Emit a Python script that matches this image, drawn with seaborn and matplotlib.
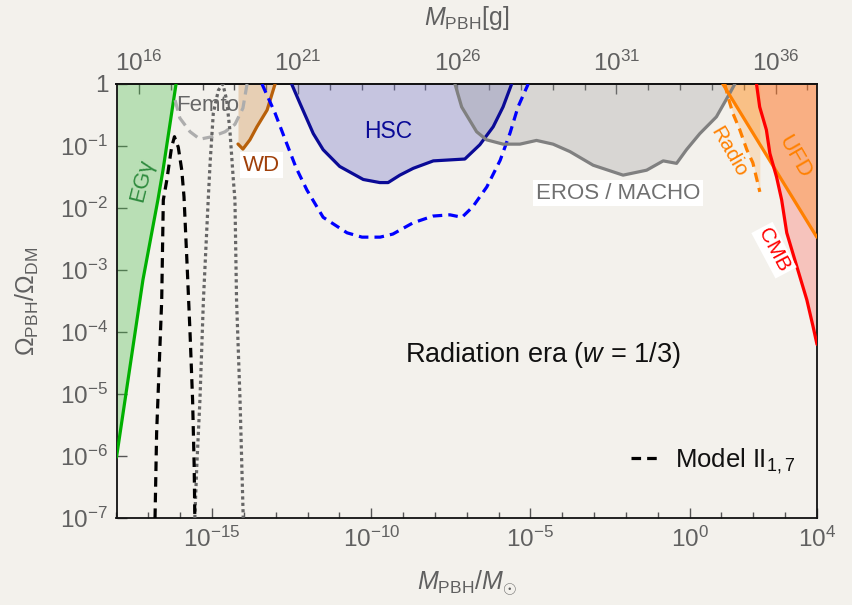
import numpy as np
import matplotlib
matplotlib.use("Agg")
import matplotlib.pyplot as plt
import seaborn as sns
from matplotlib.ticker import FixedLocator, FixedFormatter, NullFormatter

# ---------------- data (log10 of M/Msun and log10 of Omega_PBH/Omega_DM) -------------
egamma_logm = [-18.0, -17.17, -16.70, -16.54, -16.13]
egamma_logf = [-6.02, -3.16, -1.87, -1.39, 0.0]

femto_logm = [-16.16, -16.01, -15.69, -15.38, -15.00, -14.59, -14.28, -14.03, -13.90]
femto_logf = [-0.26, -0.55, -0.77, -0.89, -0.85, -0.77, -0.65, -0.39, 0.0]

wd_logm = [-14.185, -14.03, -13.81, -13.59, -13.27, -13.02]
wd_logf = [-0.968, -1.05, -0.90, -0.69, -0.42, 0.0]

model_logm = [-16.79, -16.74, -16.66, -16.58, -16.53, -16.42, -16.27, -16.18,
              -16.06, -15.95, -15.88, -15.78, -15.69, -15.61, -15.56, -15.54]
model_logf = [-7.0, -5.63, -4.56, -3.48, -1.87, -1.55, -1.02, -0.85,
              -1.02, -1.39, -1.82, -2.95, -4.02, -5.10, -6.18, -7.0]

dotted_logm = [-15.54, -15.48, -15.38, -15.27, -15.12, -15.06, -14.96, -14.80,
               -14.66, -14.54, -14.44, -14.33, -14.28, -14.23, -14.12, -14.02]
dotted_logf = [-7.0, -6.18, -5.10, -3.48, -1.87, -1.27, -0.47, -0.10,
               0.0, -0.26, -0.74, -1.55, -1.87, -3.48, -5.10, -7.0]

hsc_logm = [-12.50, -12.24, -11.82, -11.51, -10.99, -10.25, -9.73, -9.47,
            -9.10, -8.68, -8.05, -7.06, -6.59, -6.17, -5.86, -5.59]
hsc_logf = [0.0, -0.31, -0.80, -1.06, -1.33, -1.54, -1.59, -1.59,
            -1.47, -1.36, -1.24, -1.21, -0.98, -0.69, -0.37, 0.0]

hscdash_logm = [-13.43, -13.02, -12.70, -12.36, -12.02, -11.51, -10.76, -10.29, -9.72,
                -9.32, -8.69, -8.06, -7.53, -7.15, -6.81, -6.37, -5.95, -5.64, -5.39, -5.07]
hscdash_logf = [0.0, -0.47, -0.90, -1.35, -1.71, -2.15, -2.40, -2.47, -2.47,
                -2.42, -2.24, -2.13, -2.11, -2.15, -1.98, -1.66, -1.23, -0.79, -0.37, 0.0]

eros_logm = [-7.37, -7.16, -6.69, -6.38, -5.86, -5.33, -4.81, -4.29, -3.76, -3.03,
             -2.09, -1.35, -0.83, -0.41, -0.10, 0.32, 0.84, 1.26, 1.42]
eros_logf = [0.0, -0.37, -0.77, -0.90, -0.97, -0.97, -0.91, -0.97, -1.09, -1.31,
             -1.47, -1.39, -1.24, -1.28, -1.06, -0.80, -0.53, -0.15, 0.0]

radio_logm = [1.105, 1.20, 1.356, 1.576, 1.796, 1.985, 2.205]
radio_logf = [0.0, -0.20, -0.47, -0.74, -1.06, -1.27, -1.74]

ufd_logm = [1.042, 3.994]
ufd_logf = [0.0, -2.47]

cmb_logm = [2.10, 2.20, 2.41, 2.52, 2.73, 2.89, 3.05, 3.37, 3.68, 3.88, 4.0]
cmb_logf = [0.0, -0.37, -0.74, -1.12, -1.50, -1.87, -2.40, -2.95, -3.48, -3.92, -4.20]

xtick_major = [-15, -10, -5, 0, 4]
ytick_major = [-7, -6, -5, -4, -3, -2, -1, 0]
gtick_major = [16, 21, 26, 31, 36]
MSUN_G = 1.989e33

# ---------------- style -------------
sns.set_theme(style="ticks")
BG = "#f3f1ec"
plt.rcParams["font.family"] = ["Liberation Sans", "DejaVu Sans"]
plt.rcParams["mathtext.fontset"] = "custom"
plt.rcParams["mathtext.rm"] = "Liberation Sans"
plt.rcParams["mathtext.it"] = "Liberation Sans:italic"
plt.rcParams["mathtext.bf"] = "Liberation Sans:bold"
plt.rcParams["mathtext.sf"] = "Liberation Sans"

fig = plt.figure(figsize=(8.52, 6.05), dpi=100, facecolor=BG)
ax = fig.add_axes([116.5 / 852, 1 - 518 / 605, (817 - 116.5) / 852, (518 - 84) / 605])
ax.set_facecolor(BG)
ax.set_xscale("log")
ax.set_yscale("log")


def P(a):
    return 10.0 ** np.asarray(a, dtype=float)


def line(lm, lf, color, lw=2.3, ls="-", z=3, label=None):
    sns.lineplot(x=P(lm), y=P(lf), sort=False, estimator=None, color=color,
                 linewidth=lw, linestyle=ls, ax=ax, zorder=z, label=label, legend=False)
    return ax.lines[-1]


# fills
ax.fill_between(P(egamma_logm), P(egamma_logf), 1, color="#4fc04f", alpha=0.35, lw=0, zorder=1)
ax.fill_between(P(wd_logm), P(wd_logf), 1, color="#d08840", alpha=0.32, lw=0, zorder=1)
ax.fill_between(P(hsc_logm), P(hsc_logf), 1, color="#7878cc", alpha=0.36, lw=0, zorder=1)
ax.fill_between(P(eros_logm), P(eros_logf), 1, color="#9a9a9a", alpha=0.3, lw=0, zorder=1)
ax.fill_between(P(radio_logm), P(radio_logf), 1, color="#ffb060", alpha=0.3, lw=0, zorder=1)
ax.fill_between(P(cmb_logm), P(cmb_logf), 1, color="#ff5a50", alpha=0.3, lw=0, zorder=1)
ax.fill_between(P(ufd_logm), P(ufd_logf), 1, color="#ff8c1a", alpha=0.35, lw=0, zorder=1)

# lines
DASH = (0, (3.0, 1.9))
line(egamma_logm, egamma_logf, "#00b000")
line(femto_logm, femto_logf, "#adadad", ls=(0, (3.4, 1.9)))
line(wd_logm, wd_logf, "#b8600a")
line(hsc_logm, hsc_logf, "#0a0a96")
line(hscdash_logm, hscdash_logf, "#0000ff", ls=DASH)
line(eros_logm, eros_logf, "#808080")
line(radio_logm, radio_logf, "#ff8000", ls=DASH)
line(ufd_logm, ufd_logf, "#ff8000")
line(cmb_logm, cmb_logf, "#ff0000")
line(dotted_logm, dotted_logf, "#666666", lw=2.3, ls=(0, (1.0, 1.0)), z=4)
model_line = line(model_logm, model_logf, "#000000", ls=DASH, z=5,
                  label=r"Model II$_{1,7}$")

ax.set_xlim(1e-18, 1e4)
ax.set_ylim(1e-7, 1)

# ticks
TC = "#606060"
ax.xaxis.set_major_locator(FixedLocator(P(xtick_major)))
ax.xaxis.set_major_formatter(FixedFormatter([r"$10^{%d}$" % v for v in xtick_major]))
ax.xaxis.set_minor_locator(FixedLocator(P(np.arange(-18, 5))))
ax.xaxis.set_minor_formatter(NullFormatter())
ax.yaxis.set_major_locator(FixedLocator(P(ytick_major)))
ax.yaxis.set_major_formatter(FixedFormatter([r"$10^{%d}$" % v if v != 0 else "1" for v in ytick_major]))
ax.yaxis.set_minor_locator(FixedLocator([]))
ax.tick_params(which="major", direction="in", length=7, width=1.0, color="#555555",
               labelsize=17.5, labelcolor=TC, pad=6)
ax.tick_params(which="minor", direction="in", length=4, width=1.0, color="#555555")
ax.tick_params(axis="x", top=False, bottom=True)
ax.tick_params(axis="y", right=False, left=True)
for s in ax.spines.values():
    s.set_visible(True)
    s.set_color("#111111")
    s.set_linewidth(1.3)

sec = ax.secondary_xaxis("top", functions=(lambda m: m * MSUN_G, lambda g: g / MSUN_G))
sec.xaxis.set_major_locator(FixedLocator(P(gtick_major)))
sec.xaxis.set_major_formatter(FixedFormatter([r"$10^{%d}$" % v for v in gtick_major]))
sec.xaxis.set_minor_locator(FixedLocator(P(np.arange(15, 38))))
sec.xaxis.set_minor_formatter(NullFormatter())
sec.tick_params(which="major", direction="in", length=7, width=1.0, color="#555555",
                labelsize=17.5, labelcolor=TC, pad=6)
sec.tick_params(which="minor", direction="in", length=4, width=1.0, color="#555555")
sec.spines["top"].set_color("#111111")
sec.spines["top"].set_linewidth(1.3)
sec.set_xlabel(r"$M_{\rm PBH}$[g]", fontsize=18, color=TC, labelpad=18)

ax.set_xlabel(r"$M_{\rm PBH}/M_{\odot}$", fontsize=18, color=TC, labelpad=12)
ax.set_ylabel(r"$\Omega_{\rm PBH}/\Omega_{\rm DM}$", fontsize=18, color=TC, labelpad=14)

# region labels
wbox = dict(boxstyle="square,pad=0.12", fc="white", ec="none")
kw = dict(ha="center", va="center", rotation_mode="anchor", zorder=6)
ax.text(P(-17.20), P(-1.55), "EGγ", color="#2e8b3e", fontsize=16, rotation=76, **kw)
ax.text(P(-15.13), P(-0.34), "Femto", color="#666666", fontsize=16, **kw)
ax.text(P(-13.44), P(-1.31), "WD", color="#a0400a", fontsize=16, bbox=wbox, **kw)
ax.text(P(-9.48), P(-0.76), "HSC", color="#0a0a96", fontsize=16.5, **kw)
ax.text(P(-2.25), P(-1.76), "EROS / MACHO", color="#707070", fontsize=16, bbox=wbox, **kw)
ax.text(P(1.23), P(-1.10), "Radio", color="#ff8000", fontsize=15, rotation=-60, **kw)
ax.text(P(3.30), P(-1.18), "UFD", color="#ff8000", fontsize=16, rotation=-60, **kw)
ax.text(P(2.65), P(-2.68), "CMB", color="#ff0000", fontsize=15, rotation=-62, bbox=wbox, **kw)
ax.text(P(-4.61), P(-4.37), r"Radiation era ($w$ = 1/3)", color="#111111", fontsize=19.5, **kw)

leg = ax.legend(handles=[model_line], labels=[r"Model II$_{1,7}$"], loc="center left",
                bbox_to_anchor=(0.735, 0.131), frameon=False, fontsize=18.5,
                handlelength=1.0, handletextpad=0.7, borderaxespad=0, borderpad=0)
for t in leg.get_texts():
    t.set_color("#111111")

fig.savefig("out.png", dpi=100, facecolor=BG)
